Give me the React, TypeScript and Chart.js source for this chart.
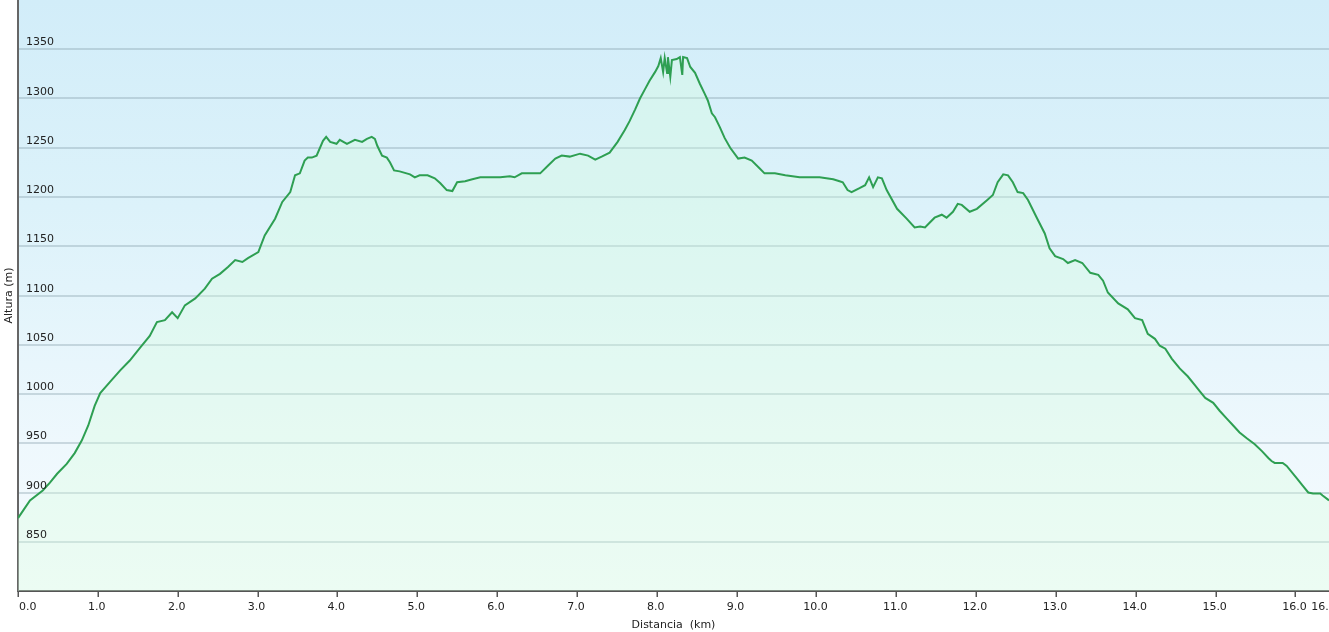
import React, { useEffect, useRef } from "react";
import { Chart, registerables } from "chart.js";

Chart.register(...registerables);

// Distance along the route (km)
const distanceKm = [
  0.0, 0.15, 0.31, 0.4, 0.49, 0.61, 0.71, 0.8, 0.88, 0.96, 1.03, 1.15, 1.28, 1.4, 1.53, 1.65, 1.74, 1.84, 1.93, 2.0,
  2.09, 2.22, 2.34, 2.43, 2.53, 2.63, 2.72, 2.81, 2.88, 3.01, 3.09, 3.22, 3.31, 3.41, 3.47, 3.53, 3.59, 3.63, 3.68, 3.74,
  3.82, 3.86, 3.91, 3.99, 4.03, 4.12, 4.22, 4.31, 4.37, 4.43, 4.47, 4.5, 4.56, 4.62, 4.66, 4.71, 4.78, 4.91, 4.97, 5.03,
  5.13, 5.22, 5.29, 5.37, 5.44, 5.5, 5.6, 5.69, 5.79, 6.04, 6.16, 6.22, 6.31, 6.54, 6.64, 6.73, 6.81, 6.91, 7.04, 7.14,
  7.23, 7.31, 7.41, 7.51, 7.6, 7.66, 7.73, 7.79, 7.85, 7.91, 7.98, 8.02, 8.05, 8.08, 8.1, 8.13, 8.14, 8.17, 8.19, 8.25,
  8.29, 8.32, 8.33, 8.38, 8.42, 8.48, 8.54, 8.6, 8.64, 8.69, 8.73, 8.79, 8.85, 8.92, 9.02, 9.1, 9.19, 9.29, 9.35, 9.48,
  9.61, 9.79, 10.04, 10.21, 10.29, 10.33, 10.39, 10.44, 10.54, 10.61, 10.66, 10.71, 10.77, 10.82, 10.88, 11.01, 11.13, 11.23, 11.3, 11.36,
  11.48, 11.57, 11.63, 11.71, 11.77, 11.82, 11.92, 12.01, 12.14, 12.21, 12.27, 12.34, 12.4, 12.46, 12.52, 12.59, 12.65, 12.76, 12.86, 12.92,
  12.99, 13.09, 13.15, 13.24, 13.33, 13.43, 13.53, 13.59, 13.65, 13.78, 13.9, 13.99, 14.08, 14.15, 14.24, 14.3, 14.37, 14.45, 14.55, 14.65,
  14.74, 14.8, 14.87, 14.97, 15.05, 15.14, 15.22, 15.3, 15.39, 15.49, 15.58, 15.66, 15.7, 15.74, 15.84, 15.89, 16.02, 16.09, 16.16, 16.22,
  16.31, 16.34, 16.42,
];

// Elevation (m)
const altitudeM = [
  874, 892, 902, 910, 919, 929, 940, 953, 968, 988, 1001, 1012, 1024, 1034, 1047, 1059, 1073, 1075, 1083, 1077,
  1090, 1097, 1107, 1117, 1122, 1129, 1136, 1134, 1138, 1144, 1161, 1178, 1195, 1205, 1222, 1224, 1237, 1240, 1240, 1242,
  1257, 1261, 1256, 1254, 1258, 1254, 1258, 1256, 1259, 1261, 1259, 1252, 1242, 1240, 1235, 1227, 1226, 1223, 1220, 1222,
  1222, 1219, 1214, 1207, 1206, 1215, 1216, 1218, 1220, 1220, 1221, 1220, 1224, 1224, 1232, 1239, 1242, 1241, 1244, 1242,
  1238, 1241, 1245, 1256, 1268, 1277, 1289, 1300, 1309, 1318, 1327, 1333, 1341, 1327, 1341, 1326, 1342, 1322, 1339, 1340,
  1342, 1324, 1342, 1341, 1332, 1326, 1315, 1305, 1298, 1285, 1281, 1271, 1260, 1250, 1239, 1240, 1237, 1229, 1224, 1224,
  1222, 1220, 1220, 1218, 1216, 1215, 1207, 1205, 1209, 1212, 1220, 1210, 1220, 1219, 1207, 1188, 1178, 1169, 1170, 1169,
  1179, 1182, 1179, 1185, 1193, 1192, 1185, 1188, 1197, 1202, 1215, 1223, 1222, 1215, 1205, 1204, 1197, 1179, 1163, 1148,
  1140, 1137, 1133, 1136, 1133, 1123, 1121, 1115, 1103, 1092, 1086, 1077, 1075, 1061, 1056, 1049, 1046, 1036, 1026, 1018,
  1009, 1003, 996, 991, 983, 975, 968, 961, 955, 949, 942, 935, 932, 930, 930, 927, 914, 907, 900, 899,
  899, 897, 892,
];

const yTickValues = [800, 850, 900, 950, 1000, 1050, 1100, 1150, 1200, 1250, 1300, 1350, 1400];
const yLabelValues = [850, 900, 950, 1000, 1050, 1100, 1150, 1200, 1250, 1300, 1350];
const xTickValues = [0, 1, 2, 3, 4, 5, 6, 7, 8, 9, 10, 11, 12, 13, 14, 15, 16];
const endLabelValue = 16.35;
const endLabelText = "16.4";
const xTitle = "Distancia  (km)";
const yTitle = "Altura (m)";

const FONT = '11px "DejaVu Sans", Verdana, sans-serif';

const decorPlugin = {
  id: "decor",
  beforeDraw(chart: any) {
    const { ctx, chartArea } = chart;
    const g = ctx.createLinearGradient(0, chartArea.top, 0, chartArea.bottom);
    g.addColorStop(0, "#d2edf9");
    g.addColorStop(0.35, "#dcf2fa");
    g.addColorStop(0.75, "#eef8fd");
    g.addColorStop(1, "#f6fbfe");
    ctx.save();
    ctx.fillStyle = g;
    ctx.fillRect(chartArea.left, chartArea.top, chartArea.right - chartArea.left, chartArea.bottom - chartArea.top);
    ctx.restore();
  },
  afterDraw(chart: any) {
    const { ctx, chartArea } = chart;
    const xs = chart.scales.x;
    const ys = chart.scales.y;
    ctx.save();
    ctx.font = FONT;
    ctx.fillStyle = "#222";
    // y labels inside plot
    ctx.textAlign = "left";
    ctx.textBaseline = "alphabetic";
    yLabelValues.forEach((v) => {
      ctx.fillText(String(v), chartArea.left + 8, ys.getPixelForValue(v) - 4);
    });
    // x tick marks
    ctx.strokeStyle = "#555";
    ctx.lineWidth = 1.5;
    xTickValues.forEach((v) => {
      const px = Math.round(xs.getPixelForValue(v)) + 0.25;
      ctx.beginPath();
      ctx.moveTo(px, chartArea.bottom);
      ctx.lineTo(px, chartArea.bottom + 6);
      ctx.stroke();
    });
    // x labels
    const by = chartArea.bottom + 19;
    xTickValues.forEach((v) => {
      const txt = v.toFixed(1);
      const w = ctx.measureText(txt).width;
      let cx = xs.getPixelForValue(v) - 1;
      if (cx - w / 2 < chartArea.left + 1) cx = chartArea.left + 1 + w / 2;
      ctx.textAlign = "center";
      ctx.fillText(txt, cx, by);
    });
    ctx.textAlign = "center";
    ctx.fillText(endLabelText, xs.getPixelForValue(endLabelValue), by);
    // titles
    ctx.fillText(xTitle, (chartArea.left + chartArea.right) / 2, chartArea.bottom + 37);
    ctx.translate(12, (chartArea.top + chartArea.bottom) / 2);
    ctx.rotate(-Math.PI / 2);
    ctx.textBaseline = "alphabetic";
    ctx.fillText(yTitle, 0, 0);
    ctx.restore();
  },
};

export default function App() {
  const canvasRef = useRef<HTMLCanvasElement>(null);

  useEffect(() => {
    const canvas = canvasRef.current;
    if (!canvas) return;
    const points = distanceKm.map((d, i) => ({ x: d, y: altitudeM[i] }));
    const chart = new Chart(canvas, {
      type: "line",
      data: {
        datasets: [
          {
            data: points,
            borderColor: "#2e9f52",
            borderWidth: 2,
            pointRadius: 0,
            tension: 0,
            fill: "start",
            backgroundColor: "rgba(215,255,220,0.32)",
          },
        ],
      },
      options: {
        animation: false,
        responsive: false,
        devicePixelRatio: 1,
        layout: { padding: 0 },
        plugins: { legend: { display: false }, tooltip: { enabled: false } },
        scales: {
          x: {
            type: "linear",
            min: 0,
            max: 16.42,
            ticks: { display: false },
            grid: { drawOnChartArea: false, drawTicks: false },
            border: { display: true, color: "#555", width: 2 },
            afterFit: (s: any) => {
              s.height = 41;
            },
          },
          y: {
            type: "linear",
            min: 800,
            max: 1400,
            ticks: { display: false },
            afterBuildTicks: (s: any) => {
              s.ticks = yTickValues.map((v) => ({ value: v }));
            },
            grid: {
              drawTicks: false,
              lineWidth: 2,
              color: (c: any) =>
                c.tick && (c.tick.value === 800 || c.tick.value === 1400)
                  ? "rgba(0,0,0,0)"
                  : "rgba(130,155,165,0.35)",
            },
            border: { display: true, color: "#666", width: 2 },
            afterFit: (s: any) => {
              s.width = 18;
            },
          },
        },
      },
      plugins: [decorPlugin],
    } as any);
    return () => chart.destroy();
  }, []);

  return (
    <div style={{ position: "fixed", left: 0, top: 0, width: 1329, height: 632, background: "#fff" }}>
      <canvas ref={canvasRef} width={1329} height={632} style={{ display: "block" }} />
    </div>
  );
}
